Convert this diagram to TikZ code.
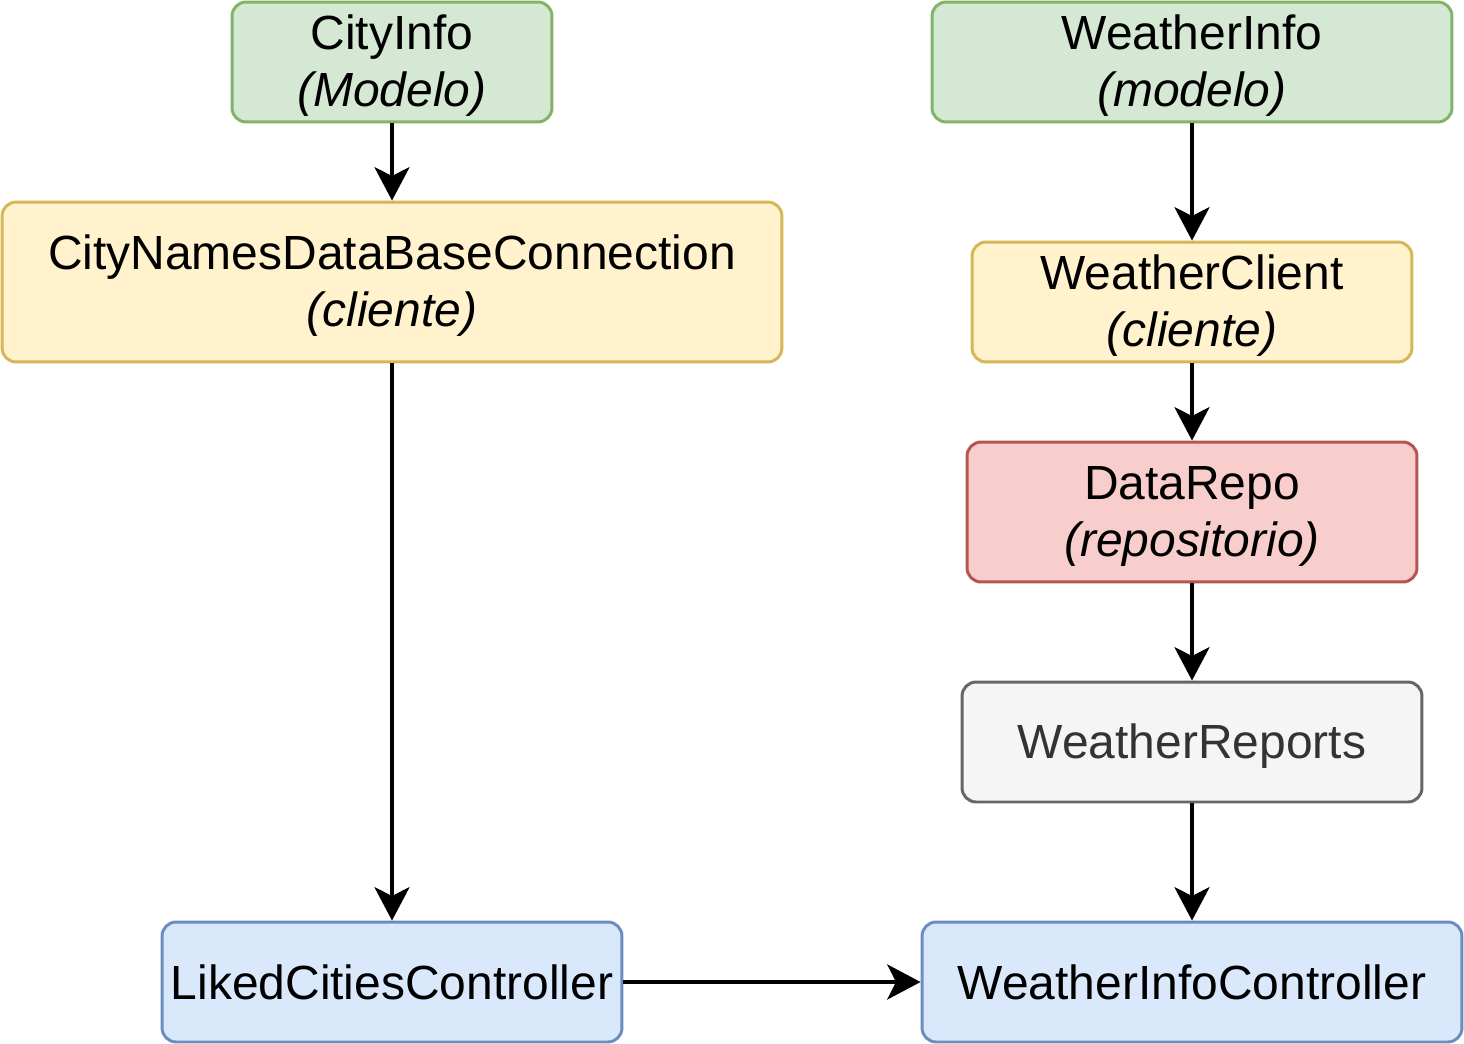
\documentclass[tikz,border=0pt]{standalone}
\usepackage{fontspec}
\setmainfont{Liberation Sans}
\usetikzlibrary{arrows.meta}

\definecolor{modelfill}{HTML}{D5E8D4}
\definecolor{modeldraw}{HTML}{82B366}
\definecolor{clientfill}{HTML}{FFF2CC}
\definecolor{clientdraw}{HTML}{D6B656}
\definecolor{repofill}{HTML}{F8CECC}
\definecolor{repodraw}{HTML}{B85450}
\definecolor{reportfill}{HTML}{F5F5F5}
\definecolor{reportdraw}{HTML}{666666}
\definecolor{reporttext}{HTML}{333333}
\definecolor{ctrlfill}{HTML}{DAE8FC}
\definecolor{ctrldraw}{HTML}{6C8EBF}

% same height and depth for every text line
\newcommand{\boxstrut}{\rule[-4pt]{0pt}{28pt}}
\newcommand{\boxpair}[2]{\boxstrut#1\\\boxstrut\textit{(#2)}}

\begin{document}
\begin{tikzpicture}[x=0.02cm, y=-0.02cm,
  box/.style={draw, rounded corners=8pt, line width=1.7pt, align=center, inner sep=0pt,
    font=\fontsize{27.3}{32.5}\selectfont},
  model/.style={box, fill=modelfill, draw=modeldraw},
  client/.style={box, fill=clientfill, draw=clientdraw},
  repo/.style={box, fill=repofill, draw=repodraw},
  report/.style={box, fill=reportfill, draw=reportdraw, text=reporttext},
  ctrl/.style={box, fill=ctrlfill, draw=ctrldraw},
  link/.style={line width=1.8pt, -{Stealth[length=19pt, width=20pt, inset=5pt]}}]
  \useasboundingbox (0,0) rectangle (1464,1044);
  \coordinate (c1) at (392,62);
  \coordinate (c2) at (1192,62);
  \node[model, minimum width=6.4cm, minimum height=2.4cm] (cityinfo) at (c1) {\boxpair{CityInfo}{Modelo}};
  \node[model, minimum width=10.4cm, minimum height=2.4cm] (weatherinfo) at (c2) {\boxpair{WeatherInfo}{modelo}};
  \node[client, minimum width=15.6cm, minimum height=3.2cm] (citydb) at (392,282) {\boxpair{CityNamesDataBaseConnection}{cliente}};
  \node[client, minimum width=8.8cm, minimum height=2.4cm] (weatherclient) at (1192,302) {\boxpair{WeatherClient}{cliente}};
  \node[repo, minimum width=9.0cm, minimum height=2.8cm] (datarepo) at (1192,512) {\boxpair{DataRepo}{repositorio}};
  \node[report, minimum width=9.2cm, minimum height=2.4cm] (reports) at (1192,742) {\boxstrut WeatherReports};
  \node[ctrl, minimum width=9.2cm, minimum height=2.4cm] (liked) at (392,982) {\boxstrut LikedCitiesController};
  \node[ctrl, minimum width=10.8cm, minimum height=2.4cm] (infoctrl) at (1192,982) {\boxstrut WeatherInfoController};
  \draw[link] (cityinfo) -- (citydb);
  \draw[link] (citydb) -- (liked);
  \draw[link] (weatherinfo) -- (weatherclient);
  \draw[link] (weatherclient) -- (datarepo);
  \draw[link] (datarepo) -- (reports);
  \draw[link] (reports) -- (infoctrl);
  \draw[link] (liked) -- (infoctrl);
\end{tikzpicture}
\end{document}
